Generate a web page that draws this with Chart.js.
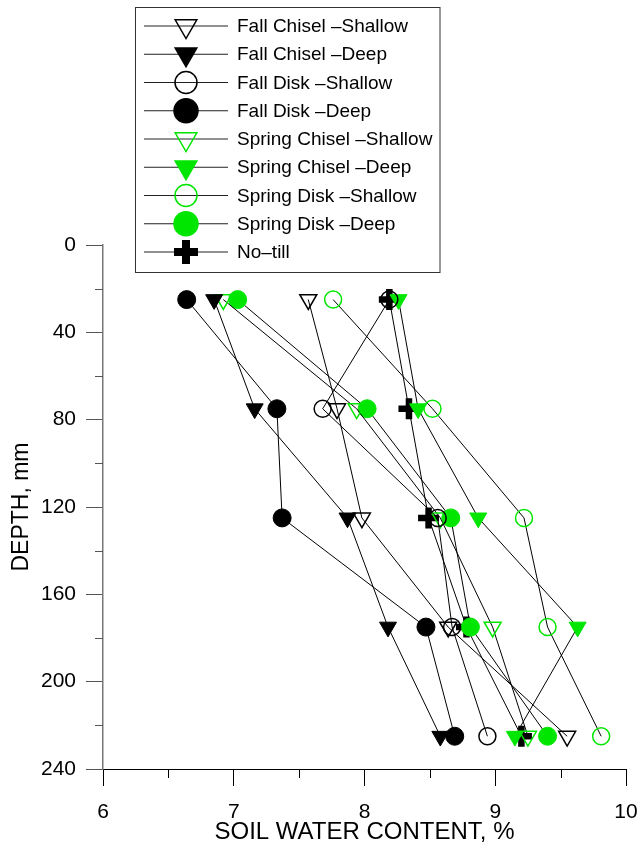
<!DOCTYPE html>
<html>
<head>
<meta charset="utf-8">
<script src="https://cdn.jsdelivr.net/npm/chart.js@4.4.1/dist/chart.umd.min.js"></script>
<style>
  body { margin: 0; background: #fff; }
  canvas { display: block; }
</style>
</head>
<body>
<canvas id="chart" width="639" height="848"></canvas>
<script>
// depths (mm) and soil water content (%) per treatment
const depths = [25, 75, 125, 175, 225];
const fallChiselShallow = [7.57, 7.79, 7.98, 8.64, 9.55];
const fallChiselDeep = [6.85, 7.16, 7.87, 8.18, 8.58];
const fallDiskShallow = [8.19, 7.68, 8.56, 8.67, 8.94];
const fallDiskDeep = [6.64, 7.33, 7.37, 8.47, 8.69];
const springChiselShallow = [6.92, 7.94, 8.58, 8.98, 9.25];
const springChiselDeep = [8.26, 8.41, 8.87, 9.63, 9.15];
const springDiskShallow = [7.76, 8.52, 9.22, 9.40, 9.81];
const springDiskDeep = [7.03, 8.02, 8.66, 8.81, 9.40];
const noTill = [8.19, 8.34, 8.49, 8.78, 9.20];

const xTicks = [6, 7, 8, 9, 10];
const yTicks = [0, 40, 80, 120, 160, 200, 240];

const GREEN = "#00e600";
const FONT = "Liberation Sans, Arial, sans-serif";

const series = [
  { label: "Fall Chisel \u2013Shallow", values: fallChiselShallow, style: "triangle", color: "#000", filled: false },
  { label: "Fall Chisel \u2013Deep", values: fallChiselDeep, style: "triangle", color: "#000", filled: true },
  { label: "Fall Disk \u2013Shallow", values: fallDiskShallow, style: "circle", color: "#000", filled: false },
  { label: "Fall Disk \u2013Deep", values: fallDiskDeep, style: "circle", color: "#000", filled: true },
  { label: "Spring Chisel \u2013Shallow", values: springChiselShallow, style: "triangle", color: GREEN, filled: false },
  { label: "Spring Chisel \u2013Deep", values: springChiselDeep, style: "triangle", color: GREEN, filled: true },
  { label: "Spring Disk \u2013Shallow", values: springDiskShallow, style: "circle", color: GREEN, filled: false },
  { label: "Spring Disk \u2013Deep", values: springDiskDeep, style: "circle", color: GREEN, filled: true },
  { label: "No\u2013till", values: noTill, style: "cross", color: "#000", filled: true },
];

function markerOpts(s) {
  if (s.style === "cross") {
    return { pointStyle: "cross", pointRotation: 0, pointRadius: 10.5, pointBorderWidth: 6.5,
             pointBorderColor: s.color, pointBackgroundColor: s.color };
  }
  const tri = s.style === "triangle";
  return {
    pointStyle: s.style,
    pointRotation: tri ? 180 : 0,
    pointRadius: tri ? 9.8 : (s.filled ? 9 : 8.5),
    pointBorderWidth: s.filled ? 1 : 1.5,
    pointBorderColor: s.color,
    pointBackgroundColor: s.filled ? s.color : "rgba(0,0,0,0)",
  };
}

const datasets = series.map((s) => Object.assign({
  label: s.label,
  data: depths.map((d, i) => ({ x: s.values[i], y: d })),
  showLine: true,
  borderColor: "#000",
  borderWidth: 1,
  pointHoverRadius: 0,
}, markerOpts(s)));

// minor tick marks (Chart.js has none of its own)
const minorTicks = {
  id: "minorTicks",
  afterDraw(chart) {
    const { ctx, chartArea, scales } = chart;
    ctx.save();
    ctx.lineWidth = 1;
    ctx.strokeStyle = "#000";
    for (let v = 6.5; v < 10; v += 1) {
      const x = Math.round(scales.x.getPixelForValue(v)) + 0.5;
      ctx.beginPath();
      ctx.moveTo(x, chartArea.bottom);
      ctx.lineTo(x, chartArea.bottom + 9);
      ctx.stroke();
    }
    ctx.strokeStyle = "#555";
    for (let v = 20; v < 240; v += 40) {
      const y = Math.round(scales.y.getPixelForValue(v)) + 0.5;
      ctx.beginPath();
      ctx.moveTo(chartArea.left - 8, y);
      ctx.lineTo(chartArea.left, y);
      ctx.stroke();
    }
    ctx.restore();
  },
};

function drawMarker(ctx, s, x, y, r) {
  ctx.save();
  ctx.strokeStyle = s.color;
  ctx.fillStyle = s.color;
  if (s.style === "cross") {
    ctx.lineWidth = 8;
    ctx.beginPath();
    ctx.moveTo(x - r, y); ctx.lineTo(x + r, y);
    ctx.moveTo(x, y - r); ctx.lineTo(x, y + r);
    ctx.stroke();
  } else {
    ctx.lineWidth = 1.5;
    ctx.beginPath();
    if (s.style === "circle") {
      ctx.arc(x, y, s.filled ? r : r - 1, 0, Math.PI * 2);
    } else {
      const h = r * Math.sqrt(3) / 2;
      ctx.moveTo(x - h, y - r / 2);
      ctx.lineTo(x + h, y - r / 2);
      ctx.lineTo(x, y + r);
      ctx.closePath();
    }
    if (s.filled) ctx.fill();
    ctx.stroke();
  }
  ctx.restore();
}

const legendBox = {
  id: "legendBox",
  afterDraw(chart) {
    const ctx = chart.ctx;
    ctx.save();
    ctx.fillStyle = "#fff";
    ctx.fillRect(135.5, 7.5, 304.5, 265);
    ctx.strokeStyle = "#333";
    ctx.lineWidth = 1;
    ctx.strokeRect(135.5, 7.5, 304.5, 265);
    ctx.font = "19px " + FONT;
    ctx.textBaseline = "middle";
    series.forEach((s, i) => {
      const y = 26 + i * 28.25;
      ctx.strokeStyle = "#222";
      ctx.lineWidth = 1;
      ctx.beginPath();
      ctx.moveTo(144, y);
      ctx.lineTo(228, y);
      ctx.stroke();
      drawMarker(ctx, s, 186, y, s.style === "triangle" ? 12.5 : 12);
      ctx.fillStyle = "#000";
      ctx.fillText(s.label, 237, y + 1);
    });
    ctx.restore();
  },
};

new Chart(document.getElementById("chart"), {
  type: "scatter",
  data: { datasets },
  plugins: [minorTicks, legendBox],
  options: {
    responsive: false,
    animation: false,
    events: [],
    layout: { autoPadding: false, padding: { top: 245, right: 13, bottom: 0, left: 0 } },
    plugins: { legend: { display: false }, tooltip: { enabled: false } },
    scales: {
      x: {
        type: "linear",
        min: 6,
        max: 10,
        afterBuildTicks: (scale) => { scale.ticks = xTicks.map((v) => ({ value: v })); },
        afterFit: (scale) => { scale.height = 79; scale.paddingLeft = 0; scale.paddingRight = 0; },
        ticks: { color: "#000", font: { family: FONT, size: 21 }, padding: 14, maxRotation: 0, autoSkip: false },
        grid: { drawOnChartArea: false, tickLength: 17, tickColor: "#000" },
        border: { color: "#000", width: 1 },
        title: { display: true, text: "SOIL WATER CONTENT, %", color: "#000",
                 font: { family: FONT, size: 24 }, padding: { top: 0, bottom: 1 } },
      },
      y: {
        type: "linear",
        min: 0,
        max: 240,
        reverse: true,
        afterBuildTicks: (scale) => { scale.ticks = yTicks.map((v) => ({ value: v })); },
        afterFit: (scale) => { scale.width = 103; scale.paddingTop = 0; scale.paddingBottom = 0; },
        ticks: { color: "#000", font: { family: FONT, size: 21 }, padding: 10, autoSkip: false },
        grid: { drawOnChartArea: false, tickLength: 17, tickColor: "#555" },
        border: { color: "#777", width: 1.5 },
        title: { display: true, text: "DEPTH, mm", color: "#000",
                 font: { family: FONT, size: 23 }, padding: { top: 8, bottom: 0 } },
      },
    },
  },
});
</script>
</body>
</html>
